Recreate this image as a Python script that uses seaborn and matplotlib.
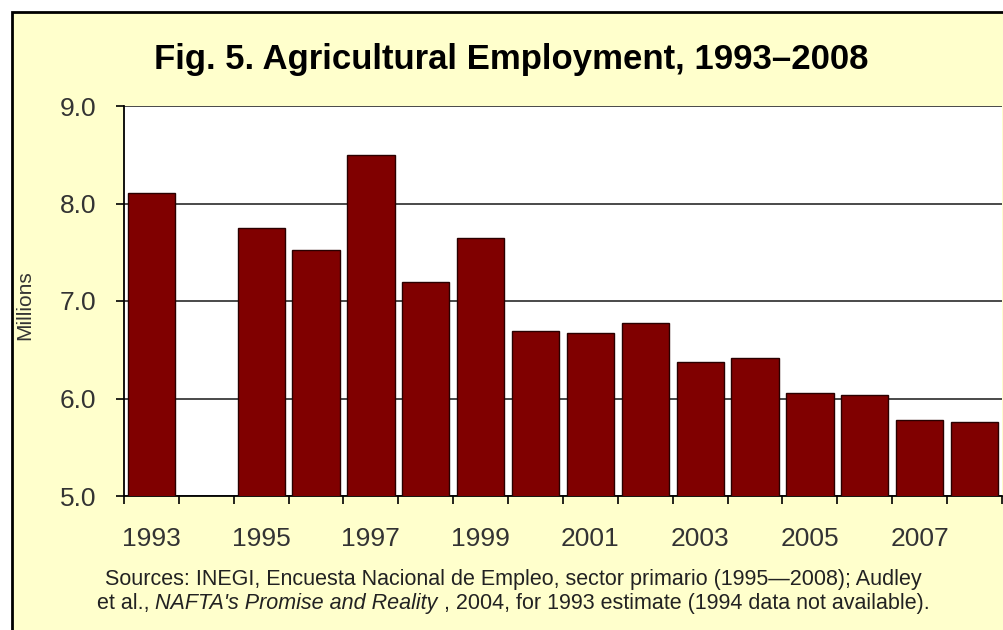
import numpy as np
import pandas as pd
import matplotlib
matplotlib.use('Agg')
import matplotlib.pyplot as plt
from matplotlib.patches import Rectangle
import seaborn as sns

# Daten (Millionen Beschäftigte in der Landwirtschaft), 1994 fehlt
years = [1993, 1995, 1996, 1997, 1998, 1999, 2000, 2001,
         2002, 2003, 2004, 2005, 2006, 2007, 2008]
employment = [8.11, 7.75, 7.52, 8.50, 7.20, 7.65, 6.69, 6.67,
              6.77, 6.37, 6.42, 6.06, 6.04, 5.78, 5.76]
all_years = [str(y) for y in range(1993, 2009)]
label_years = ['1993', '1995', '1997', '1999', '2001', '2003', '2005', '2007']

df = pd.DataFrame({'year': [str(y) for y in years], 'millions': employment})

sns.set_style('white')
plt.rcParams['font.family'] = ['Liberation Sans', 'DejaVu Sans']

W, H = 1004, 630
fig = plt.figure(figsize=(W / 100, H / 100), dpi=100, facecolor='white')

# gelber Hintergrund mit schwarzem Rahmen (rechts/unten abgeschnitten)
bg = Rectangle((12 / W, -0.05), 1.1, 1 - 12 / H + 0.05, transform=fig.transFigure,
               facecolor='#FFFFCC', edgecolor='black', linewidth=2, zorder=0)
fig.add_artist(bg)

ax = fig.add_axes([124 / W, 1 - 496 / H, (1002 - 124) / W, (496 - 106) / H])
ax.set_facecolor('white')

sns.barplot(data=df, x='year', y='millions', order=all_years, color='#800000',
            edgecolor='#2a0000', linewidth=1.0, width=0.86, errorbar=None,
            saturation=1, ax=ax, zorder=3)

ax.set_ylim(5, 9)
ax.set_xlim(-0.5, 15.5)
ax.set_yticks([5, 6, 7, 8, 9])
ax.set_yticklabels(['5.0', '6.0', '7.0', '8.0', '9.0'])
ax.yaxis.grid(True, color='#3a3a3a', linewidth=1.3, zorder=0)
ax.set_axisbelow(True)

# Striche an den Kategoriegrenzen, Beschriftung nur jedes zweite Jahr
ax.set_xticks(np.arange(-0.5, 16, 1))
ax.set_xticklabels([])
ax.set_xticks([all_years.index(y) for y in label_years], minor=True)
ax.set_xticklabels(label_years, minor=True)
ax.tick_params(axis='x', which='major', direction='out', length=6, width=1.2,
               color='black', bottom=True)
ax.tick_params(axis='x', which='minor', length=0, pad=22, labelsize=19,
               labelcolor='#333333')
ax.tick_params(axis='y', direction='out', length=6, width=1.2, color='black',
               left=True, pad=14, labelsize=19, labelcolor='#333333')

for s in ['top', 'right']:
    ax.spines[s].set_visible(False)
for s in ['left', 'bottom']:
    ax.spines[s].set_color('black')
    ax.spines[s].set_linewidth(1.3)

ax.set_xlabel('')
ax.set_ylabel('')
fig.text(25 / W, 1 - 305 / H, 'Millions', rotation=90, ha='center', va='center',
         fontsize=15, color='#333333')

fig.text(511 / W, 1 - 60 / H, 'Fig. 5. Agricultural Employment, 1993\u20132008',
         ha='center', va='center', fontsize=25, fontweight='bold', color='black')

# Quellenangabe, zweite Zeile mit kursivem Titel
fig.text(105 / W, 1 - 579 / H,
         'Sources: INEGI, Encuesta Nacional de Empleo, sector primario (1995\u20142008); Audley',
         ha='left', va='center', fontsize=15.5, color='#222222')
fig.canvas.draw()
renderer = fig.canvas.get_renderer()
x0 = 97 / W
parts = [('et al., ', 'normal'), ("NAFTA's Promise and Reality", 'italic'),
         (' , 2004, for 1993 estimate (1994 data not available).', 'normal')]
for txt, style in parts:
    t = fig.text(x0, 1 - 603 / H, txt, ha='left', va='center', fontsize=15.5,
                 style=style, color='#222222')
    bb = t.get_window_extent(renderer)
    x0 += bb.width / W

fig.savefig('out.png', dpi=100, facecolor=fig.get_facecolor())
